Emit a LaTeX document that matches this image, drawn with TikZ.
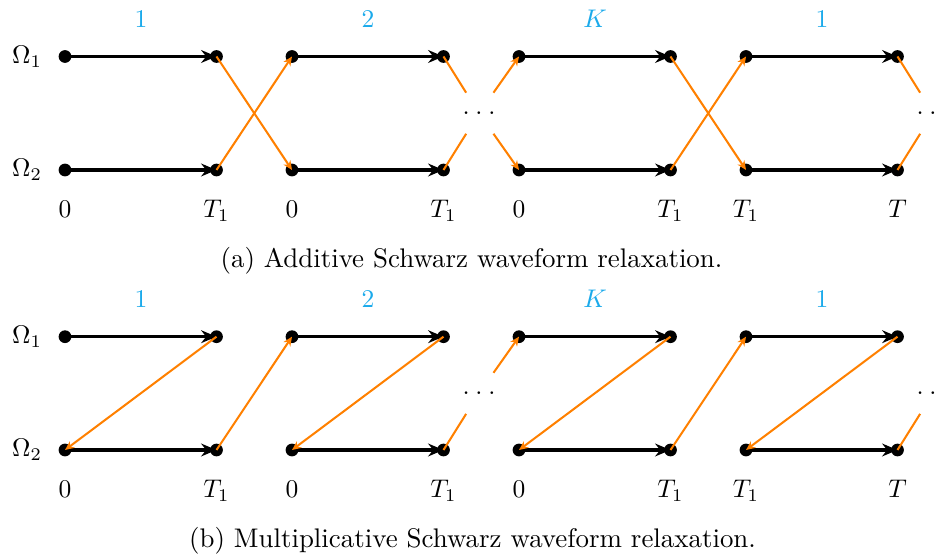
\documentclass[tikz,border=0pt]{standalone}
\usetikzlibrary{arrows.meta}

\definecolor{iterblue}{RGB}{27,170,235}

\newcommand{\gapdotstext}{.\kern2.3pt.\kern2.3pt.}

\tikzset{
  solve/.style={very thick, -{Stealth[length=6pt,width=5pt]}},
  transfer/.style={thick, orange, -{Stealth[length=3.6pt,width=3.2pt]}},
  fadeout/.style={thick, orange},
  gapdots/.style={inner sep=0pt, minimum height=15.7pt},
  iterlabel/.style={anchor=base, text=iterblue},
  timelabel/.style={anchor=base},
  caption/.style={anchor=base, font=\fontsize{10.55}{12.6}\selectfont},
}

\begin{document}
\begin{tikzpicture}[x=1.378cm, y=1.378cm]
  \useasboundingbox (0,0) rectangle (9.43,5.58);

  %%% (a) additive
  % time points
  \foreach \x [count=\i] in {0.65,2.165,2.92,4.435,5.19,6.705,7.46,8.975} {
    \coordinate (aU\i) at (\x,5.015);
    \coordinate (aL\i) at (\x,3.88);
  }
  \node[gapdots] (aG1) at (4.79,4.4475) {\gapdotstext};
  \node[gapdots] (aG2) at (9.33,4.4475) {\gapdotstext};

  % subdomain solves
  \foreach \i/\j in {1/2,3/4,5/6,7/8} {
    \draw[solve] (aU\i) -- (aU\j);
    \draw[solve] (aL\i) -- (aL\j);
  }
  \foreach \i in {1,...,8} {
    \fill (aU\i) circle (2.5pt);
    \fill (aL\i) circle (2.5pt);
  }

  % exchange of traces
  \draw[transfer] (aU2) -- (aL3);
  \draw[transfer] (aL2) -- (aU3);
  \draw[fadeout] (aU4) -- (aG1);
  \draw[fadeout] (aL4) -- (aG1);
  \draw[transfer] (aG1) -- (aU5);
  \draw[transfer] (aG1) -- (aL5);
  \draw[transfer] (aU6) -- (aL7);
  \draw[transfer] (aL6) -- (aU7);
  \draw[fadeout] (aU8) -- (aG2);
  \draw[fadeout] (aL8) -- (aG2);

  % labels
  \node[left=5.5pt] (aOm1) at (aU1) {$\Omega_1$};
  \node[left=5.5pt] (aOm2) at (aL1) {$\Omega_2$};
  \foreach \x/\lab [count=\i] in {0.65/0,2.165/T_1,2.92/0,4.435/T_1,5.19/0,6.705/T_1,7.46/T_1,8.975/T}
    \node[timelabel] (aT\i) at (\x,3.40) {$\lab$};
  \foreach \x/\iter [count=\i] in {1.41/1,3.68/2,5.95/K,8.22/1}
    \node[iterlabel] (aK\i) at (\x,5.30) {$\iter$};
  \node[caption] (capA) at (4.715,2.90) {(a) Additive Schwarz waveform relaxation.};

  %%% (b) multiplicative
  % time points
  \foreach \x [count=\i] in {0.65,2.165,2.92,4.435,5.19,6.705,7.46,8.975} {
    \coordinate (bU\i) at (\x,2.213);
    \coordinate (bL\i) at (\x,1.08);
  }
  \node[gapdots] (bG1) at (4.79,1.6465) {\gapdotstext};
  \node[gapdots] (bG2) at (9.33,1.6465) {\gapdotstext};

  % subdomain solves
  \foreach \i/\j in {1/2,3/4,5/6,7/8} {
    \draw[solve] (bU\i) -- (bU\j);
    \draw[solve] (bL\i) -- (bL\j);
  }
  \foreach \i in {1,...,8} {
    \fill (bU\i) circle (2.5pt);
    \fill (bL\i) circle (2.5pt);
  }

  % exchange of traces
  \draw[transfer] (bU2) -- (bL1);
  \draw[transfer] (bL2) -- (bU3);
  \draw[transfer] (bU4) -- (bL3);
  \draw[fadeout] (bL4) -- (bG1);
  \draw[transfer] (bG1) -- (bU5);
  \draw[transfer] (bU6) -- (bL5);
  \draw[transfer] (bL6) -- (bU7);
  \draw[transfer] (bU8) -- (bL7);
  \draw[fadeout] (bL8) -- (bG2);

  % labels
  \node[left=5.5pt] (bOm1) at (bU1) {$\Omega_1$};
  \node[left=5.5pt] (bOm2) at (bL1) {$\Omega_2$};
  \foreach \x/\lab [count=\i] in {0.65/0,2.165/T_1,2.92/0,4.435/T_1,5.19/0,6.705/T_1,7.46/T_1,8.975/T}
    \node[timelabel] (bT\i) at (\x,0.60) {$\lab$};
  \foreach \x/\iter [count=\i] in {1.41/1,3.68/2,5.95/K,8.22/1}
    \node[iterlabel] (bK\i) at (\x,2.50) {$\iter$};
  \node[caption] (capB) at (4.725,0.10) {(b) Multiplicative Schwarz waveform relaxation.};
\end{tikzpicture}
\end{document}
